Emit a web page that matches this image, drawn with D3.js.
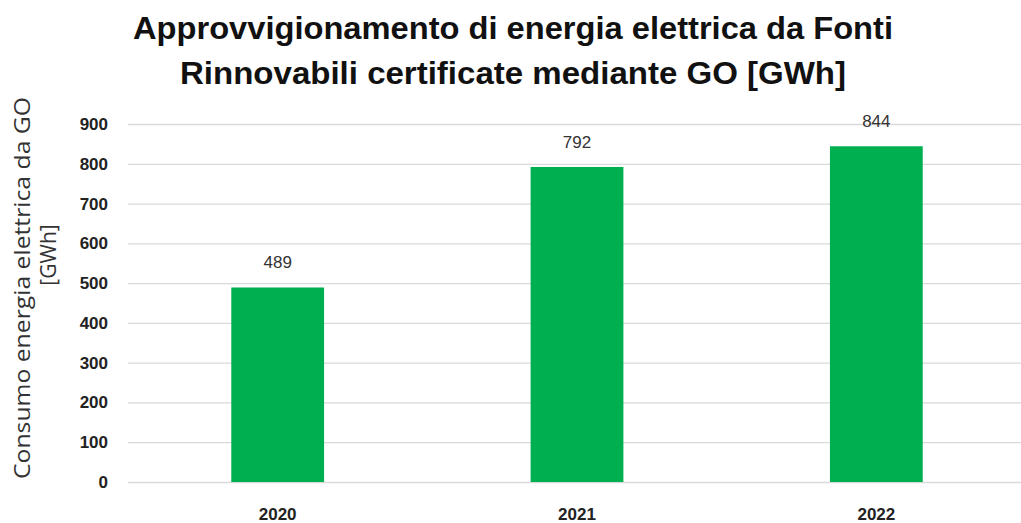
<!DOCTYPE html>
<meta charset="utf-8">
<style>
body { margin: 0; background: #fff; }
svg { display: block; }
.grid line { stroke: #d9d9d9; stroke-width: 1.3; }
.grid path { display: none; }
.axis--y text { font: bold 17px "Liberation Sans", sans-serif; fill: #222; }
.axis--x text { font: bold 17px "Liberation Sans", sans-serif; fill: #222; }
.label { font: 17px "Liberation Sans", sans-serif; fill: #333; }
</style>
<body>
<svg width="1021" height="523"></svg>
<script src="https://d3js.org/d3.v7.min.js"></script>
<script>
var years = ["2020", "2021", "2022"];
var values = [489, 792, 844];
var yTicks = [0, 100, 200, 300, 400, 500, 600, 700, 800, 900];
var titleLines = ["Approvvigionamento  di energia elettrica da Fonti", "Rinnovabili certificate mediante GO [GWh]"];
var yLabelLines = ["Consumo energia elettrica da GO", "[GWh]"];

var svg = d3.select("svg");

var x = d3.scaleBand().domain(years).range([128, 1026]).paddingInner(0.69).paddingOuter(0.345),
    y = d3.scaleLinear().domain([0, 900]).range([482, 124]);

// gridlines
svg.append("g")
    .attr("class", "grid")
    .attr("transform", "translate(128,0)")
    .call(d3.axisLeft(y).tickValues(yTicks).tickSize(-900).tickFormat(""));

// y tick labels
var ya = svg.append("g")
    .attr("class", "axis--y")
    .attr("transform", "translate(108,0)")
    .call(d3.axisLeft(y).tickValues(yTicks).tickSize(0).tickPadding(0));
ya.select(".domain").remove();

// x labels
var xa = svg.append("g")
    .attr("class", "axis--x")
    .attr("transform", "translate(0,502)")
    .call(d3.axisBottom(x).tickSize(0).tickPadding(6));
xa.select(".domain").remove();

svg.selectAll(".bar")
  .data(values)
  .enter().append("rect")
    .attr("class", "bar")
    .attr("x", function(d, i) { return x(years[i]); })
    .attr("y", function(d) { return y(d); })
    .attr("width", x.bandwidth())
    .attr("height", function(d) { return y(0) - y(d); })
    .attr("fill", "#00b050");

svg.selectAll(".label")
  .data(values)
  .enter().append("text")
    .attr("class", "label")
    .attr("x", function(d, i) { return x(years[i]) + x.bandwidth() / 2; })
    .attr("y", function(d) { return y(d) - 19; })
    .attr("text-anchor", "middle")
    .text(function(d) { return d; });

// title
svg.selectAll(".title")
  .data(titleLines)
  .enter().append("text")
    .attr("class", "title")
    .attr("x", 513)
    .attr("y", function(d, i) { return 39 + i * 45; })
    .attr("text-anchor", "middle")
    .attr("textLength", function(d, i) { return i ? 666 : 760; })
    .attr("lengthAdjust", "spacingAndGlyphs")
    .style("font", "bold 32px 'Liberation Sans Narrow', 'Liberation Sans', sans-serif")
    .style("fill", "#111")
    .text(function(d) { return d; });

// y axis label
svg.append("text")
    .attr("transform", "translate(30,288) rotate(-90)")
    .attr("text-anchor", "middle")
    .attr("textLength", 382)
    .attr("lengthAdjust", "spacingAndGlyphs")
    .style("font", "21px 'Open Sans', sans-serif")
    .style("fill", "#333")
    .text(yLabelLines[0]);
svg.append("text")
    .attr("transform", "translate(56,255) rotate(-90)")
    .attr("text-anchor", "middle")
    .style("font", "21px 'Open Sans', sans-serif")
    .style("fill", "#333")
    .text(yLabelLines[1]);
</script>
</body>
